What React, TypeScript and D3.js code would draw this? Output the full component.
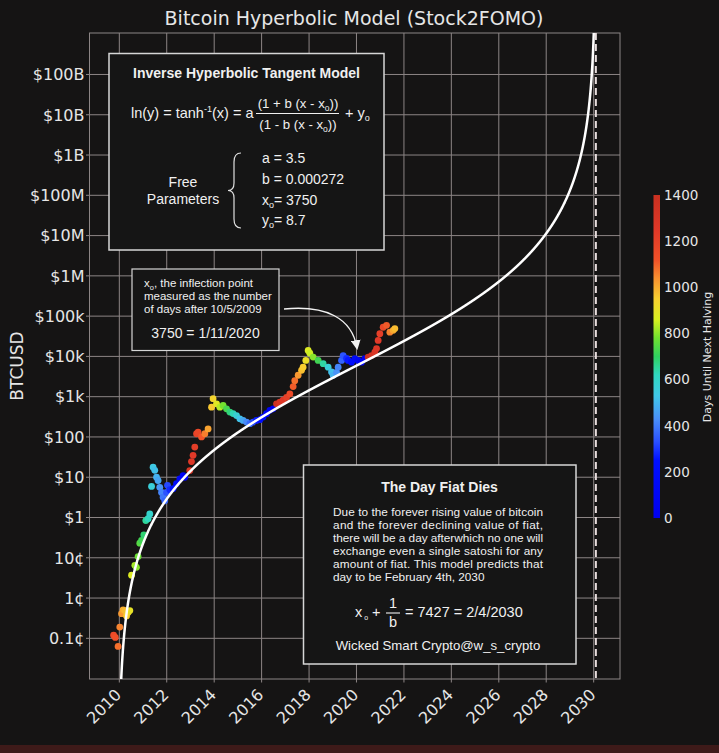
import * as d3 from "d3";

// model parameters
const a = 3.5;
const b = 0.000272;
const x0 = 3750;
const y0 = 8.7;

// x axis: days after 10/5/2009
const startDate = Date.UTC(2009, 9, 5);
const tickYears = [2010, 2012, 2014, 2016, 2018, 2020, 2022, 2024, 2026, 2028, 2030];

const yTickValues = [1e11, 1e10, 1e9, 1e8, 1e7, 1e6, 1e5, 1e4, 1e3, 1e2, 10, 1, 0.1, 0.01, 0.001];
const yTickLabels = ["$100B", "$10B", "$1B", "$100M", "$10M", "$1M", "$100k", "$10k", "$1k", "$100", "$10", "$1", "10¢", "1¢", "0.1¢"];

const halvingDates = ["2012-11-28", "2016-07-09", "2020-05-11", "2024-04-20"];

const cbTicks = [0, 200, 400, 600, 800, 1000, 1200, 1400];
const cbStops = [0, 250, 330, 430, 530, 620, 700, 780, 860, 950, 1040, 1120, 1250, 1400];
const cbColors = ["#0000ee", "#0010ff", "#2a50ff", "#4a90f8", "#40c8e8", "#30d8c0", "#30d060", "#70e030", "#d8f020", "#f8d030", "#f89030", "#f05028", "#e03828", "#c83020"];

// BTC price samples (day after 10/5/2009, USD)
const pointDays = [
  0, 26, 69, 95, 122, 146, 172, 199, 223, 250,
  276, 327, 352, 377, 403, 430, 465, 496, 531, 557,
  584, 608, 634, 661, 685, 711, 738, 762, 788, 815, 830, 866, 916, 968, 1020, 1070, 1096, 1173,
  1199, 1224, 1250, 1277, 1301, 1354, 1405, 1455,
  1508, 1532, 1585, 1636, 1686, 1739, 1790, 1840, 1893, 1944, 1994, 2047, 2098, 2148, 2200, 2252, 2302, 2355, 2406, 2456,
  2509, 2560, 2610, 2663, 2714, 2765, 2790, 2842, 2894, 2918, 2960, 2996, 3022, 3073, 3150, 3227, 3304, 3356, 3381,
  3433, 3458, 3510, 3535, 3587, 3612, 3664, 3715, 3766, 3818,
  3869, 3920, 3972, 4023, 4049, 4074, 4100, 4151, 4203, 4254, 4305, 4331,
];
const pointPrices = [
  0.0012, 0.00105, 0.00063, 0.0019, 0.0041, 0.0051, 0.0049, 0.0036, 0.0044, 0.0049,
  0.037, 0.065, 0.058, 0.107, 0.23, 0.27, 0.37, 0.84, 0.93, 1.23,
  5.9, 17.8, 14.8, 10, 8.3, 5.6, 4.2, 3.2, 2.6, 4.2, 6.3, 4.9, 5.2, 6.9, 9.1, 11, 10, 14.6,
  24.5, 35, 56, 120, 132, 100, 120, 158,
  550, 890, 665, 550, 605, 500, 415, 380, 340, 282, 257, 234, 214, 234, 257, 268, 311, 378, 458, 500,
  665, 730, 815, 960, 1180, 1780, 2500, 3400, 4500, 5400, 7950, 14100, 12000, 9600, 7950, 6600, 5400, 4100, 3400,
  4000, 5400, 7950, 10500, 8900, 7950, 7200, 8800, 7950, 7200,
  8800, 9600, 10500, 12800, 15600, 25000, 36700, 53000, 59000, 40000, 44300, 49000,
];

const W = 719;
const H = 753;
const left = 89.5;
const right = 620;
const top = 33;
const bottom = 679;

const BOX_FONT = "'Liberation Sans', Arial, sans-serif";
const AX_FONT = "'DejaVu Sans', sans-serif";

export default function App() {
  const x = d3.scaleLinear().domain([-371.35, 7798.35]).range([left, right]);
  const y = d3.scaleLog().domain([Math.pow(10, -4.01), Math.pow(10, 12.03)]).range([bottom, top]);
  const color = d3.scaleLinear<string>().domain(cbStops).range(cbColors).clamp(true);
  const cbY = d3.scaleLinear().domain([0, 1400]).range([518, 195]);

  const halvingDays = halvingDates.map((s) => (Date.parse(s) - startDate) / 86400000);
  const untilHalving = (d: number) => {
    const next = halvingDays.find((h) => h > d);
    return next === undefined ? 0 : next - d;
  };
  const tickDays = tickYears.map((yr) => (Date.UTC(yr, 0, 1) - startDate) / 86400000);

  // model curve
  const fiatDeath = x0 + 1 / b;
  const us = d3.range(-0.99995, 0.99995, 0.0005);
  const model = us.map((u) => {
    const d = x0 + u / b;
    const lny = a * Math.log((1 + u) / (1 - u)) + y0;
    return [d, Math.exp(lny)] as [number, number];
  });
  const line = d3
    .line<[number, number]>()
    .x((p) => x(p[0]))
    .y((p) => Math.max(-1000, Math.min(2000, y(p[1]))));

  const points = pointDays.map((d, i) => ({ d, p: pointPrices[i], c: untilHalving(d) }));

  const gridColor = "#8c8585";
  const textColor = "#e6e6e6";

  return (
    <svg
      width={W}
      height={H}
      style={{ position: "absolute", left: 0, top: 0, display: "block" }}
    >
      <defs>
        <clipPath id="plot">
          <rect x={left} y={top} width={right - left} height={bottom - top} />
        </clipPath>
        <linearGradient id="cb" x1="0" y1="1" x2="0" y2="0">
          {cbStops.map((s, i) => (
            <stop key={i} offset={s / 1400} stopColor={cbColors[i]} />
          ))}
        </linearGradient>
        <marker id="arr" viewBox="0 0 10 10" refX="8" refY="5" markerWidth="7" markerHeight="7" orient="auto">
          <path d="M0,0 L10,5 L0,10 z" fill="#f2f2f2" />
        </marker>
      </defs>
      <rect x={0} y={0} width={W} height={H} fill="#151414" />
      <rect x={0} y={745} width={W} height={8} fill="#3e1a19" />

      {/* title */}
      <text x={354} y={25} textAnchor="middle" fill={textColor} fontFamily={AX_FONT} fontSize={19}>
        Bitcoin Hyperbolic Model (Stock2FOMO)
      </text>

      {/* grid */}
      <g stroke={gridColor} strokeWidth={1}>
        {tickDays.map((d, i) => (
          <line key={"gx" + i} x1={x(d)} x2={x(d)} y1={top} y2={bottom} />
        ))}
        {yTickValues.map((v, i) => (
          <line key={"gy" + i} x1={left} x2={right} y1={y(v)} y2={y(v)} />
        ))}
        {yTickValues.map((v, i) => (
          <line key={"ty" + i} x1={left - 3.5} x2={left} y1={y(v)} y2={y(v)} />
        ))}
        {tickDays.map((d, i) => (
          <line key={"tx" + i} x1={x(d)} x2={x(d)} y1={bottom} y2={bottom + 3.5} />
        ))}
      </g>
      <rect x={left} y={top} width={right - left} height={bottom - top} fill="none" stroke={gridColor} strokeWidth={1} />

      {/* axes labels */}
      {yTickValues.map((v, i) => (
        <text key={"yl" + i} x={left - 5} y={y(v)} dy="0.36em" textAnchor="end" fill={textColor} fontFamily={AX_FONT} fontSize={16}>
          {yTickLabels[i]}
        </text>
      ))}
      {tickDays.map((d, i) => (
        <text
          key={"xl" + i}
          transform={`translate(${x(d) - 5},${bottom + 9}) rotate(-45)`}
          textAnchor="end"
          dy="0.7em"
          fill={textColor}
          fontFamily={AX_FONT}
          fontSize={16}
        >
          {tickYears[i]}
        </text>
      ))}
      <text transform={`translate(23,366) rotate(-90)`} textAnchor="middle" fill={textColor} fontFamily={AX_FONT} fontSize={17}>
        BTCUSD
      </text>

      {/* data + model */}
      <g clipPath="url(#plot)">
        {points.map((pt, i) => (
          <circle key={"p" + i} cx={x(pt.d)} cy={y(pt.p)} r={3.4} fill={color(pt.c)} />
        ))}
        <path d={line(model) || ""} fill="none" stroke="#ffffff" strokeWidth={2.5} />
        <line
          x1={x(fiatDeath)}
          x2={x(fiatDeath)}
          y1={top}
          y2={bottom}
          stroke="#e8dede"
          strokeWidth={2}
          strokeDasharray="7,4"
        />
      </g>

      {/* model box */}
      <g fontFamily={BOX_FONT} fill="#f0f0f0">
        <rect x={109} y={53.5} width={275} height={196.5} fill="#151515" stroke="#d6d6d6" strokeWidth={1.5} />
        <text x={246.5} y={78} textAnchor="middle" fontWeight="bold" fontSize={14}>
          Inverse Hyperbolic Tangent Model
        </text>
        <text x={131} y={118} fontSize={14.5}>
          ln(y) = tanh<tspan dy={-6} fontSize={9}>-1</tspan>
          <tspan dy={6}>(x) = a</tspan>
        </text>
        <text x={298} y={108} textAnchor="middle" fontSize={13.2}>
          (1 + b (x - x<tspan dy={3} fontSize={8.5}>o</tspan>
          <tspan dy={-3}>))</tspan>
        </text>
        <line x1={256} x2={339} y1={113.5} y2={113.5} stroke="#f0f0f0" strokeWidth={1.2} />
        <text x={298} y={128.5} textAnchor="middle" fontSize={13.2}>
          (1 - b (x - x<tspan dy={3} fontSize={8.5}>o</tspan>
          <tspan dy={-3}>))</tspan>
        </text>
        <text x={345} y={118} fontSize={14.5}>
          + y<tspan dy={3} fontSize={9}>o</tspan>
        </text>
        <text x={183} y={187} textAnchor="middle" fontSize={14}>
          Free
        </text>
        <text x={183} y={203.5} textAnchor="middle" fontSize={14}>
          Parameters
        </text>
        <path
          d="M241,153 Q234,153 234,162 L234,183 Q234,190.5 228,190.5 Q234,190.5 234,198 L234,219 Q234,228 241,228"
          fill="none"
          stroke="#e0e0e0"
          strokeWidth={1.2}
        />
        <text x={262} y={163} fontSize={14}>a = 3.5</text>
        <text x={262} y={183.5} fontSize={14}>b = 0.000272</text>
        <text x={262} y={204.5} fontSize={14}>
          x<tspan dy={3} fontSize={9}>o</tspan>
          <tspan dy={-3}>= 3750</tspan>
        </text>
        <text x={262} y={225} fontSize={14}>
          y<tspan dy={3} fontSize={9}>o</tspan>
          <tspan dy={-3}>= 8.7</tspan>
        </text>
      </g>

      {/* inflection annotation */}
      <g fontFamily={BOX_FONT} fill="#f0f0f0">
        <rect x={132} y={269} width={147} height={81.5} fill="#151515" stroke="#d6d6d6" strokeWidth={1.2} />
        <text x={144} y={287} fontSize={11.5}>
          x<tspan dy={2.5} fontSize={7.5}>o</tspan>
          <tspan dy={-2.5}>, the inflection point</tspan>
        </text>
        <text x={144} y={300} fontSize={11.5}>measured as the number</text>
        <text x={144} y={313} fontSize={11.5}>of days after 10/5/2009</text>
        <text x={205.5} y={338} textAnchor="middle" fontSize={14}>3750 = 1/11/2020</text>
        <path
          d="M284,309 C326,305 352,318 357,348"
          fill="none"
          stroke="#f2f2f2"
          strokeWidth={1.4}
          markerEnd="url(#arr)"
        />
      </g>

      {/* day fiat dies */}
      <g fontFamily={BOX_FONT} fill="#f0f0f0">
        <rect x={303.5} y={465} width={272.5} height={199} fill="#151515" stroke="#d6d6d6" strokeWidth={1.5} />
        <text x={439.5} y={492} textAnchor="middle" fontWeight="bold" fontSize={14}>
          The Day Fiat Dies
        </text>
        {[
          "Due to the forever rising value of bitcoin",
          "and the forever declining value of fiat,",
          "there will be a day afterwhich no one will",
          "exchange even a single satoshi for any",
          "amount of fiat. This model predicts that",
        ].map((s, i) => (
          <text key={"para" + i} x={333} y={515.5 + i * 13} fontSize={11.8} textLength={210} lengthAdjust="spacing">
            {s}
          </text>
        ))}
        <text x={333} y={580.5} fontSize={11.8}>
          day to be February 4th, 2030
        </text>
        <text x={355} y={617} fontSize={14.5}>
          x<tspan dy={2.5} fontSize={7}> o</tspan>
          <tspan dy={-2.5}> +</tspan>
        </text>
        <text x={393} y={608} textAnchor="middle" fontSize={14.5}>1</text>
        <line x1={386} x2={400} y1={613} y2={613} stroke="#f0f0f0" strokeWidth={1.1} />
        <text x={393} y={627} textAnchor="middle" fontSize={14.5}>b</text>
        <text x={405} y={617} fontSize={14.5}>= 7427 = 2/4/2030</text>
        <text x={438} y={650} textAnchor="middle" fontSize={13.2}>
          Wicked Smart Crypto@w_s_crypto
        </text>
      </g>

      {/* colorbar */}
      <rect x={653.5} y={195} width={6.5} height={323} fill="url(#cb)" />
      {cbTicks.map((t, i) => (
        <text key={"cb" + i} x={664} y={cbY(t)} dy="0.36em" fill={textColor} fontFamily={AX_FONT} fontSize={13.5}>
          {t}
        </text>
      ))}
      <text transform="translate(707,357) rotate(-90)" textAnchor="middle" dy="0.35em" fill={textColor} fontFamily={AX_FONT} fontSize={11}>
        Days Until Next Halving
      </text>
    </svg>
  );
}
